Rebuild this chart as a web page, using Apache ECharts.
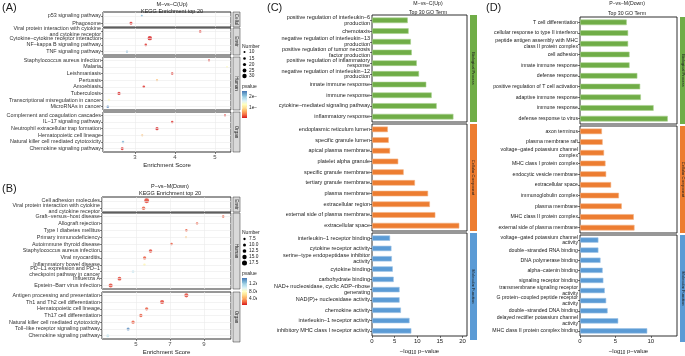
<!DOCTYPE html>
<html>
<head>
<meta charset="utf-8">
<script src="https://cdn.jsdelivr.net/npm/echarts@6/dist/echarts.min.js"></script>
<style>html,body{margin:0;background:#fff}#main{width:685px;height:356px}</style>
</head>
<body>
<div id="main"></div>
<script>
// ---------- (A) M-vs-C(Up) KEGG top 20 ----------
const aCellTerms = ['p53 signaling pathway', 'Phagosome'];
const aCellScore = [3.17, 2.9];
const aCellNum = [10, 18];
const aCellP = [2.2e-3, 1.2e-4];

const aEnvTerms = ['Viral protein interaction with cytokine\nand cytokine receptor', 'Cytokine−cytokine receptor interaction', 'NF−kappa B signaling pathway', 'TNF signaling pathway'];
const aEnvScore = [4.63, 3.37, 3.27, 2.8];
const aEnvNum = [14, 30, 15, 12];
const aEnvP = [1.5e-4, 1e-4, 1.5e-4, 2.2e-3];

const aHumTerms = ['Staphylococcus aureus infection', 'Malaria', 'Leishmaniasis', 'Pertussis', 'Amoebiasis', 'Tuberculosis', 'Transcriptional misregulation in cancer', 'MicroRNAs in cancer'];
const aHumScore = [4.85, 5.3, 3.93, 3.55, 3.22, 2.6, 2.35, 2.32];
const aHumNum = [12, 10, 14, 12, 15, 20, 15, 15];
const aHumP = [1.5e-4, 1.3e-3, 1.5e-4, 8e-4, 1.5e-4, 1.2e-4, 1.3e-3, 2.5e-3];

const aOrgTerms = ['Complement and coagulation cascades', 'IL−17 signaling pathway', 'Neutrophil extracellular trap formation', 'Hematopoietic cell lineage', 'Natural killer cell mediated cytotoxicity', 'Chemokine signaling pathway'];
const aOrgScore = [5.25, 3.93, 3.55, 3.18, 2.7, 2.68];
const aOrgNum = [12, 14, 20, 12, 14, 18];
const aOrgP = [1.5e-4, 1.5e-4, 1e-4, 8e-4, 2.2e-3, 1.2e-4];

const aSizeBreaks = [10, 15, 20, 25, 30];
const aPBreaks = [2e-3, 1e-3];
const aPLabels = ['2e−03', '1e−03'];
const aPRange = [9e-5, 2.55e-3];

// ---------- (B) P-vs-M(Down) KEGG top 20 ----------
const bEnvTerms = ['Cell adhesion molecules', 'Viral protein interaction with cytokine\nand cytokine receptor'];
const bEnvScore = [5.63, 5.45];
const bEnvNum = [17, 12];
const bEnvP = [1.5e-5, 2e-5];

const bHumTerms = ['Graft−versus−host disease', 'Allograft rejection', 'Type I diabetes mellitus', 'Primary immunodeficiency', 'Autoimmune thyroid disease', 'Staphylococcus aureus infection', 'Viral myocarditis', 'Inflammatory bowel disease', 'PD−L1 expression and PD−1\ncheckpoint pathway in cancer', 'Influenza A', 'Epstein−Barr virus infection'];
const bHumScore = [10.14, 8.6, 7.97, 7.95, 7.1, 5.86, 5.51, 5.5, 4.83, 4.03, 3.51];
const bHumNum = [8, 8, 8, 6.5, 8, 12, 11, 8, 9, 13, 14];
const bHumP = [2e-5, 2e-5, 2e-5, 5e-5, 2e-5, 1.5e-5, 2e-5, 7.5e-5, 1.05e-4, 1.5e-5, 1.5e-5];

const bOrgTerms = ['Antigen processing and presentation', 'Th1 and Th2 cell differentiation', 'Hematopoietic cell lineage', 'Th17 cell differentiation', 'Natural killer cell mediated cytotoxicity', 'Toll−like receptor signaling pathway', 'Chemokine signaling pathway'];
const bOrgScore = [7.97, 6.54, 5.63, 5.29, 4.83, 4.54, 3.34];
const bOrgNum = [14, 14, 11, 11, 11, 10, 10];
const bOrgP = [1.5e-5, 1.5e-5, 2e-5, 2e-5, 2e-5, 1.45e-4, 1.1e-4];

const bSizeBreaks = [7.5, 10, 12.5, 15, 17.5];
const bSizeLabels = ['7.5', '10.0', '12.5', '15.0', '17.5'];
const bPBreaks = [1.2e-4, 8e-5, 4e-5];
const bPLabels = ['1.2e−04', '8.0e−05', '4.0e−05'];
const bPRange = [8e-6, 1.52e-4];

// ---------- (C) M-vs-C(Up) Top 30 GO ----------
const cBPTerms = ['positive regulation of interleukin−6\nproduction', 'chemotaxis', 'negative regulation of interleukin−13\nproduction', 'positive regulation of tumor necrosis\nfactor production', 'positive regulation of inflammatory\nresponse', 'negative regulation of interleukin−12\nproduction', 'innate immune response', 'immune response', 'cytokine−mediated signaling pathway', 'inflammatory response'];
const cBPVal = [7.9, 8.1, 8.6, 8.8, 9.9, 10.4, 12.0, 13.2, 14.3, 18.0];
const cCCTerms = ['endoplasmic reticulum lumen', 'specific granule lumen', 'apical plasma membrane', 'platelet alpha granule', 'specific granule membrane', 'tertiary granule membrane', 'plasma membrane', 'extracellular region', 'external side of plasma membrane', 'extracellular space'];
const cCCVal = [3.5, 3.7, 4.0, 5.8, 7.0, 9.5, 12.4, 12.8, 14.0, 19.3];
const cMFTerms = ['interleukin−1 receptor binding', 'cytokine receptor activity', 'serine−type endopeptidase inhibitor\nactivity', 'cytokine binding', 'carbohydrate binding', 'NAD+ nucleosidase, cyclic ADP−ribose\ngenerating', 'NAD(P)+ nucleosidase activity', 'chemokine activity', 'interleukin−1 receptor activity', 'inhibitory MHC class I receptor activity'];
const cMFVal = [4.0, 4.3, 4.4, 4.6, 4.8, 6.1, 6.1, 6.4, 8.3, 8.7];

// ---------- (D) P-vs-M(Down) Top 30 GO ----------
const dBPTerms = ['T cell differentiation', 'cellular response to type II interferon', 'peptide antigen assembly with MHC\nclass II protein complex', 'cell adhesion', 'innate immune response', 'defense response', 'positive regulation of T cell activation', 'adaptive immune response', 'immune response', 'defense response to virus'];
const dBPVal = [6.6, 6.8, 6.8, 7.0, 7.0, 8.1, 8.5, 8.6, 10.4, 12.4];
const dCCTerms = ['axon terminus', 'plasma membrane raft', 'voltage−gated potassium channel\ncomplex', 'MHC class I protein complex', 'endocytic vesicle membrane', 'extracellular space', 'immunoglobulin complex', 'plasma membrane', 'MHC class II protein complex', 'external side of plasma membrane'];
const dCCVal = [3.1, 3.2, 3.4, 3.6, 3.7, 4.4, 5.5, 5.9, 7.6, 7.7];
const dMFTerms = ['voltage−gated potassium channel\nactivity', 'double−stranded RNA binding', 'DNA polymerase binding', 'alpha−catenin binding', 'signaling receptor binding', 'transmembrane signaling receptor\nactivity', 'G protein−coupled peptide receptor\nactivity', 'double−stranded DNA binding', 'delayed rectifier potassium channel\nactivity', 'MHC class II protein complex binding'];
const dMFVal = [2.6, 2.6, 2.9, 3.2, 3.3, 3.5, 3.7, 3.9, 5.4, 9.5];

const goNames = ['Biological Process', 'Cellular Component', 'Molecular Function'];
const goColors = ['#70ad47', '#ed7d31', '#5b9bd5'];
const goEdges = ['#a9d18e', '#f4b183', '#9dc3e6'];

// ---------- layout helpers ----------
const FONT = '"Liberation Sans", Arial, sans-serif';
const PAL = ['#d7191c', '#f46d43', '#fdae61', '#fee090', '#ffffbf', '#e0f3f8', '#abd9e9', '#74add1', '#4575b4'];
const sizeA = n => 0.8 + n * 0.12;
const sizeB = n => 0.3 + n * 0.27;

const grids = [], xAxes = [], yAxes = [], series = [], graphics = [];
const aIdx = [], bIdx = [];

function txt(x, y, text, size, opt) {
  graphics.push(Object.assign({
    type: 'text', x: x, y: y, silent: true,
    style: Object.assign({ text: text, fontSize: size, fontFamily: FONT, fill: '#1a1a1a', align: 'left', verticalAlign: 'middle' }, opt || {})
  }));
}

function strip(x, y, w, h, fill, label, fs, stroke) {
  graphics.push({ type: 'rect', silent: true, shape: { x: x, y: y, width: w, height: h },
    style: { fill: fill, stroke: stroke || null, lineWidth: 0.5 } });
  graphics.push({ type: 'text', silent: true, x: x + w / 2, y: y + h / 2, rotation: -Math.PI / 2,
    style: { text: label, fontSize: fs, fontFamily: FONT, fill: '#1a1a1a', align: 'center', verticalAlign: 'middle' } });
}

function dotFacet(terms, score, num, p, box, xOpt, bottom, sizeFn, idxList, stripLabel) {
  const g = grids.length;
  grids.push({ left: box[0], top: box[1], width: box[2], height: box[3], show: true,
    borderColor: '#1a1a1a', borderWidth: 0.9, backgroundColor: '#fff' });
  xAxes.push(Object.assign({
    type: 'value', gridIndex: g,
    axisLine: { show: false },
    axisTick: { show: bottom, length: 2, lineStyle: { color: '#333', width: 0.6 } },
    axisLabel: { show: bottom, fontSize: 6, color: '#4d4d4d', margin: 2, fontFamily: FONT, showMinLabel: false, showMaxLabel: false },
    splitLine: { show: true, lineStyle: { color: '#ebebeb', width: 0.6 } }
  }, xOpt, bottom ? { name: 'Enrichment Score', nameLocation: 'middle', nameGap: 10,
    nameTextStyle: { fontSize: 6, color: '#1a1a1a', fontFamily: FONT } } : {}));
  yAxes.push({
    type: 'category', gridIndex: g, data: terms, inverse: true,
    axisLine: { show: false },
    axisTick: { show: true, length: 2, interval: 0, alignWithLabel: true, lineStyle: { color: '#333', width: 0.6 } },
    axisLabel: { interval: 0, fontSize: 5.4, lineHeight: 5.6, color: '#333', margin: 2, fontFamily: FONT },
    splitLine: { show: false }
  });
  series.push({ type: 'scatter', xAxisIndex: g, yAxisIndex: g, silent: true, z: 1, symbolSize: 0,
    data: terms.map((t, i) => [score[i], t]),
    markLine: { silent: true, symbol: 'none', label: { show: false },
      lineStyle: { color: '#ebebeb', width: 0.6, type: 'solid' },
      data: terms.map(t => ({ yAxis: t })) } });
  idxList.push(series.length);
  series.push({ type: 'scatter', xAxisIndex: g, yAxisIndex: g, z: 3,
    data: terms.map((t, i) => [score[i], t, num[i], p[i]]),
    symbolSize: v => sizeFn(v[2]) });
  strip(box[0] + box[2] + 2, box[1], 7, box[3], '#d9d9d9', stripLabel, 4.5, '#333');
}

function barFacet(terms, vals, box, max, k, bottom, fs) {
  const g = grids.length;
  grids.push({ left: box[0], top: box[1], width: box[2], height: box[3], show: true,
    borderColor: '#1a1a1a', borderWidth: 0.9, backgroundColor: '#fff' });
  xAxes.push(Object.assign({
    type: 'value', gridIndex: g, min: 0, max: max, interval: 5,
    axisLine: { show: false },
    axisTick: { show: bottom, length: 2, lineStyle: { color: '#1a1a1a', width: 0.6 } },
    axisLabel: { show: bottom, fontSize: 6, color: '#1a1a1a', margin: 2, fontFamily: FONT, showMaxLabel: false },
    splitLine: { show: false }
  }, bottom ? { name: '{a|−log}{b|10}{a| p−value}', nameLocation: 'middle', nameGap: 11,
    nameTextStyle: { fontFamily: FONT, color: '#1a1a1a',
      rich: { a: { fontSize: 6, fontFamily: FONT, color: '#1a1a1a' }, b: { fontSize: 4.5, fontFamily: FONT, color: '#1a1a1a', padding: [3, 0, 0, 0] } } } } : {}));
  yAxes.push({
    type: 'category', gridIndex: g, data: terms, inverse: true,
    axisLine: { show: false },
    axisTick: { show: true, length: 2, interval: 0, alignWithLabel: true, lineStyle: { color: '#1a1a1a', width: 0.6 } },
    axisLabel: { interval: 0, fontSize: fs, lineHeight: 5.6, color: '#1a1a1a', margin: 2, fontFamily: FONT }
  });
  series.push({ type: 'bar', xAxisIndex: g, yAxisIndex: g, data: vals, barWidth: '52%',
    itemStyle: { color: goColors[k], borderColor: goEdges[k], borderWidth: 0.6 } });
  strip(box[0] + box[2] + 3, box[1], 7, box[3], goColors[k], goNames[k], 4);
}

// ---------- panels ----------
const aX = { min: 2.2, max: 5.4, splitNumber: 3 };
dotFacet(aCellTerms, aCellScore, aCellNum, aCellP, [103, 12, 128, 15], aX, false, sizeA, aIdx, 'Cellul');
dotFacet(aEnvTerms, aEnvScore, aEnvNum, aEnvP, [103, 28, 128, 27], aX, false, sizeA, aIdx, 'Envir');
dotFacet(aHumTerms, aHumScore, aHumNum, aHumP, [103, 57, 128, 53], aX, false, sizeA, aIdx, 'Human');
dotFacet(aOrgTerms, aOrgScore, aOrgNum, aOrgP, [103, 112, 128, 40], aX, true, sizeA, aIdx, 'Organ');

const bX = { min: 3, max: 10.6, interval: 2 };
dotFacet(bEnvTerms, bEnvScore, bEnvNum, bEnvP, [102, 197, 129, 15], bX, false, sizeB, bIdx, 'Envir');
dotFacet(bHumTerms, bHumScore, bHumNum, bHumP, [102, 213, 129, 76], bX, false, sizeB, bIdx, 'Human');
dotFacet(bOrgTerms, bOrgScore, bOrgNum, bOrgP, [102, 292, 129, 50], bX, true, sizeB, bIdx, 'Organ');

barFacet(cBPTerms, cBPVal, [372, 15, 95, 107], 21, 0, false, 5.5);
barFacet(cCCTerms, cCCVal, [372, 124, 95, 107], 21, 1, false, 5.5);
barFacet(cMFTerms, cMFVal, [372, 233, 95, 107], 21, 2, true, 5.5);

barFacet(dBPTerms, dBPVal, [580, 17, 97, 107], 13.7, 0, false, 5.2);
barFacet(dCCTerms, dCCVal, [580, 126, 97, 107], 13.7, 1, false, 5.2);
barFacet(dMFTerms, dMFVal, [580, 235, 97, 107], 13.7, 2, true, 5.2);

// titles and panel tags
txt(2, 8, '(A)', 11);
txt(2, 189, '(B)', 11);
txt(267, 8, '(C)', 11);
txt(486, 8, '(D)', 11);
txt(172, 4, 'M−vs−C(Up)', 5.5, { align: 'center' });
txt(172, 11.5, 'KEGG Enrichment top 20', 5.5, { align: 'center' });
txt(170, 186, 'P−vs−M(Down)', 5.5, { align: 'center' });
txt(170, 193, 'KEGG Enrichment top 20', 5.5, { align: 'center' });
txt(428, 4, 'M−vs−C(Up)', 5.2, { align: 'center' });
txt(428, 12.5, 'Top 30 GO Term', 5.2, { align: 'center' });
txt(627, 4, 'P−vs−M(Down)', 5.2, { align: 'center' });
txt(627, 13.5, 'Top 30 GO Term', 5.2, { align: 'center' });

// size + pvalue legends
function legend(x, topNum, ys, breaks, labels, sizeFn, topP, barH, range, pBreaks, pLabels) {
  txt(x, topNum, 'Number', 5);
  breaks.forEach((b, i) => {
    const d = sizeFn(b);
    graphics.push({ type: 'circle', silent: true, shape: { cx: x + 2.5, cy: ys[i], r: d / 2 }, style: { fill: '#000' } });
    txt(x + 7, ys[i], labels[i], 4.8);
  });
  txt(x, topP, 'pvalue', 5);
  const y0 = topP + 4;
  graphics.push({ type: 'rect', silent: true, shape: { x: x, y: y0, width: 5, height: barH },
    style: { fill: new echarts.graphic.LinearGradient(0, 0, 0, 1,
      PAL.slice().reverse().map((c, i) => ({ offset: i / (PAL.length - 1), color: c }))) } });
  pBreaks.forEach((p, i) => {
    const y = y0 + barH - (p - range[0]) / (range[1] - range[0]) * barH;
    graphics.push({ type: 'line', silent: true, shape: { x1: x, y1: y, x2: x + 1, y2: y }, style: { stroke: '#fff', lineWidth: 0.5 } });
    graphics.push({ type: 'line', silent: true, shape: { x1: x + 4, y1: y, x2: x + 5, y2: y }, style: { stroke: '#fff', lineWidth: 0.5 } });
    txt(x + 7, y, pLabels[i], 4.8);
  });
}
legend(242, 47, [52, 58.5, 64.5, 70.5, 76], aSizeBreaks, aSizeBreaks.map(String), sizeA, 87, 27, aPRange, aPBreaks, aPLabels);
legend(242, 233, [239, 245, 251, 257, 263], bSizeBreaks, bSizeLabels, sizeB, 274, 27, bPRange, bPBreaks, bPLabels);
// legend labels are clipped where panel C begins
graphics.push({ type: 'rect', silent: true, z: 100, shape: { x: 257, y: 90, width: 14, height: 26 }, style: { fill: '#fff' } });
graphics.push({ type: 'rect', silent: true, z: 100, shape: { x: 257, y: 279, width: 12, height: 28 }, style: { fill: '#fff' } });

const myChart = echarts.init(document.getElementById('main'), null, { renderer: 'canvas' });
myChart.setOption({
  animation: false,
  backgroundColor: '#fff',
  grid: grids,
  xAxis: xAxes,
  yAxis: yAxes,
  visualMap: [
    { type: 'continuous', show: false, seriesIndex: aIdx, dimension: 3, min: aPRange[0], max: aPRange[1], inRange: { color: PAL } },
    { type: 'continuous', show: false, seriesIndex: bIdx, dimension: 3, min: bPRange[0], max: bPRange[1], inRange: { color: PAL } }
  ],
  series: series,
  graphic: graphics
});
</script>
</body>
</html>
